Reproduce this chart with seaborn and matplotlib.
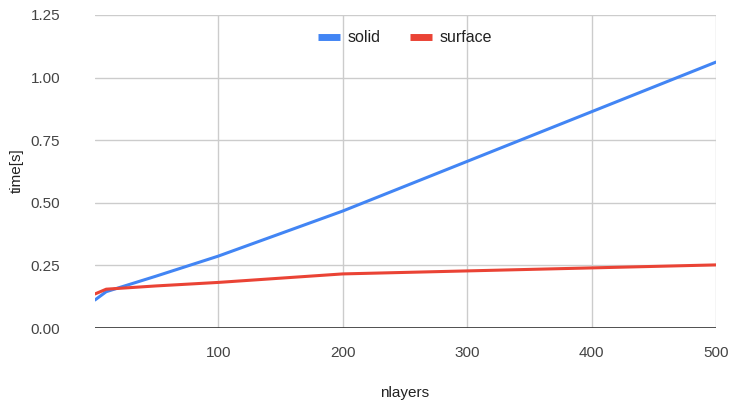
import matplotlib
matplotlib.use("Agg")
import matplotlib.pyplot as plt
import seaborn as sns
import pandas as pd

nlayers = [1, 10, 50, 100, 200, 500]
solid = [0.112, 0.145, 0.207, 0.287, 0.467, 1.062]
surface = [0.136, 0.155, 0.168, 0.182, 0.216, 0.252]
series_names = ["solid", "surface"]
colors = ["#4285F4", "#EA4335"]
yticks = [0.0, 0.25, 0.5, 0.75, 1.0, 1.25]
xticks = [100, 200, 300, 400, 500]

df = pd.DataFrame({"nlayers": nlayers, "solid": solid, "surface": surface})
long = df.melt(id_vars="nlayers", var_name="series", value_name="time")

sns.set_style("white")
plt.rcParams["font.family"] = ["Liberation Sans", "DejaVu Sans"]

W, H = 730, 404
fig = plt.figure(figsize=(W / 100, H / 100), dpi=100)
ax = fig.add_axes([95 / W, 76 / H, (716 - 95) / W, (328 - 15) / H])

sns.lineplot(data=long, x="nlayers", y="time", hue="series",
             hue_order=series_names, palette=colors, linewidth=2.2,
             ax=ax, legend=False)

ax.set_xlim(1, 500)
ax.set_ylim(0, 1.25)
ax.set_xticks(xticks)
ax.set_yticks(yticks)
ax.set_yticklabels([f"{v:.2f}" for v in yticks])
ax.grid(True, color="#cccccc", linewidth=1)
ax.set_axisbelow(True)
for s in ax.spines.values():
    s.set_visible(False)
ax.axhline(0, color="#333333", linewidth=1.2, zorder=1.5)
ax.tick_params(axis="both", length=0, labelsize=11, labelcolor="#444444")
ax.tick_params(axis="x", pad=13)
ax.tick_params(axis="y", pad=25)
for lbl in ax.get_yticklabels():
    lbl.set_horizontalalignment("right")
ax.set_xlabel("")
ax.set_ylabel("")

fig.text(405 / W, 1 - 393 / H, "nlayers", ha="center", va="center",
         fontsize=11, color="#222222")
fig.text(17 / W, 1 - 171 / H, "time[s]", ha="center", va="center",
         rotation=90, fontsize=11, color="#222222")

handles = [plt.Line2D([], [], color=c, linewidth=5, solid_capstyle="butt")
           for c in colors]
fig.legend(handles, series_names, loc="center",
           bbox_to_anchor=(405 / W, 1 - 38 / H), ncol=2, frameon=False,
           handlelength=1.4, handletextpad=0.5, columnspacing=1.8,
           fontsize=11.5, labelcolor="#222222")

fig.savefig("out.png", dpi=100, facecolor="white")
